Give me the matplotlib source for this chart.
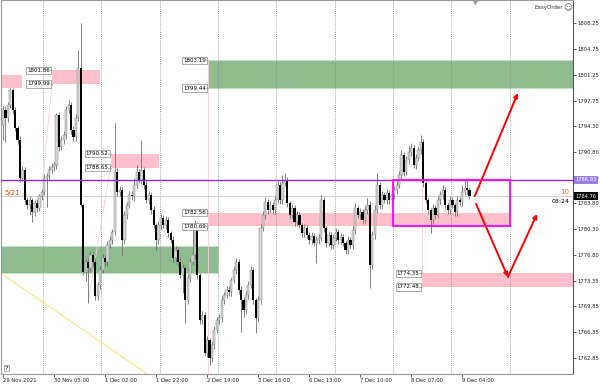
"""MT4-style XAUUSD H1 chart with supply/demand zones and projected path arrows."""
import matplotlib

matplotlib.use("Agg")
import matplotlib.pyplot as plt  # noqa: E402
import numpy as np  # noqa: E402
from matplotlib.patches import Rectangle  # noqa: E402

# ---- candle data (H1 bars, 29 Nov 08:00 -> 9 Dec) ----
FIRST_OPEN = 1794.43
CLOSES = [
    1796.46, 1795.38, 1797.14, 1799.17, 1796.46, 1794.03, 1792.40, 1787.25, 1788.34, 1784.27,
    1783.59, 1784.27, 1782.64, 1783.86, 1783.19, 1784.81, 1785.35, 1787.25, 1787.52, 1788.34,
    1788.74, 1789.01, 1795.79, 1791.45, 1792.40, 1793.08, 1796.46, 1797.14, 1793.76, 1792.81,
    1795.38, 1802.16, 1783.59, 1774.51, 1775.87, 1775.06, 1776.82, 1775.87, 1771.26, 1772.75,
    1774.79, 1776.41, 1775.87, 1778.17, 1778.85, 1779.93, 1788.06, 1785.35, 1785.63, 1778.85,
    1782.24, 1783.59, 1784.95, 1784.80, 1786.30, 1788.06, 1786.98, 1788.34, 1786.30, 1784.27,
    1784.95, 1782.92, 1780.88, 1778.85, 1780.88, 1781.83, 1780.88, 1781.56, 1779.80, 1778.85,
    1776.41, 1777.50, 1775.87, 1774.11, 1775.06, 1770.72, 1773.70, 1775.87, 1776.82, 1780.88,
    1774.11, 1768.01, 1768.69, 1763.54, 1765.30, 1762.86, 1764.62, 1766.66, 1768.01, 1768.28,
    1770.72, 1771.40, 1772.08, 1771.81, 1773.43, 1774.79, 1775.87, 1772.08, 1770.72, 1769.37,
    1771.40, 1772.75, 1774.79, 1770.72, 1768.28, 1770.72, 1780.48, 1782.24, 1784.00, 1782.92,
    1783.59, 1782.92, 1784.27, 1786.30, 1784.27, 1786.57, 1786.98, 1783.86, 1782.24, 1783.19,
    1781.29, 1782.24, 1780.88, 1779.80, 1780.48, 1779.53, 1778.85, 1779.39, 1778.44, 1778.85,
    1779.12, 1784.27, 1780.48, 1778.44, 1779.53, 1778.17, 1779.12, 1779.93, 1778.85, 1779.26,
    1778.44, 1777.50, 1778.85, 1778.17, 1780.21, 1783.19, 1782.24, 1782.64, 1781.56, 1782.92,
    1783.59, 1775.46, 1779.53, 1782.92, 1786.30, 1783.59, 1784.95, 1784.27, 1785.22, 1784.27,
    1784.95, 1785.63, 1786.30, 1787.66, 1790.37, 1788.06, 1789.69, 1790.77, 1791.32, 1789.01,
    1789.96, 1791.05, 1792.13, 1786.57, 1784.27, 1782.92, 1781.56, 1783.19, 1782.24, 1784.27,
    1784.95, 1785.63, 1783.59, 1782.92, 1784.27, 1783.59, 1782.64, 1784.27, 1784.00, 1785.35,
    1785.90, 1785.63, 1784.81,
]
UP_WICK = [
    0.6, 0.5, 0.4, 0.3, 0.3, 0.4, 0.3, 0.5, 0.6, 0.4,
    0.4, 0.5, 0.3, 0.4, 0.5, 0.3, 0.4, 0.5, 0.4, 0.6,
    0.5, 0.4, 0.3, 0.4, 0.5, 0.6, 0.5, 0.7, 0.4, 0.5,
    0.6, 2.4, 6.1, 0.3, 0.4, 0.5, 0.6, 0.4, 0.5, 0.4,
    0.5, 0.6, 0.4, 0.5, 0.6, 0.4, 6.6, 0.5, 0.6, 0.4,
    0.5, 0.4, 0.6, 0.5, 0.9, 0.9, 0.4, 4.0, 0.4, 0.5,
    0.6, 0.4, 0.5, 0.3, 0.5, 0.6, 0.4, 0.5, 0.4, 0.3,
    0.5, 0.6, 0.4, 0.5, 0.6, 0.4, 0.5, 0.6, 3.4, 0.7,
    0.4, 0.3, 0.6, 0.4, 0.5, 0.3, 0.5, 0.6, 0.4, 0.5,
    0.6, 0.4, 0.5, 0.5, 0.4, 0.6, 0.6, 0.4, 0.5, 0.4,
    0.5, 0.6, 0.5, 0.4, 0.3, 0.5, 0.6, 0.5, 0.7, 0.4,
    0.5, 0.4, 0.6, 0.6, 0.4, 1.1, 0.9, 0.4, 0.3, 0.5,
    0.4, 0.5, 0.4, 0.3, 0.5, 0.4, 0.4, 0.5, 0.4, 0.5,
    0.5, 0.7, 0.4, 0.3, 0.5, 0.4, 0.5, 0.6, 0.4, 0.5,
    0.4, 0.3, 0.5, 0.4, 0.6, 0.7, 0.4, 0.5, 0.4, 0.6,
    0.9, 0.5, 0.6, 0.7, 1.6, 0.4, 0.5, 0.4, 0.6, 0.4,
    0.5, 0.5, 0.6, 0.6, 0.7, 0.4, 0.6, 0.9, 0.7, 0.4,
    0.5, 0.6, 0.9, 0.4, 0.3, 0.3, 0.3, 0.5, 0.4, 0.5,
    0.6, 0.7, 0.4, 0.3, 0.5, 0.4, 0.3, 0.5, 0.4, 0.9,
    1.1, 1.3, 0.4,
]
DOWN_WICK = [
    2.0, 3.2, 0.5, 0.4, 0.5, 0.4, 0.6, 0.5, 0.4, 0.6,
    0.5, 1.3, 1.3, 0.5, 0.6, 0.4, 0.5, 0.4, 3.9, 0.5,
    0.4, 0.5, 0.6, 0.5, 0.4, 0.5, 0.6, 0.4, 0.5, 0.6,
    0.5, 0.4, 0.3, 0.4, 1.2, 4.7, 0.5, 0.6, 0.5, 0.6,
    0.5, 0.4, 0.6, 0.5, 0.4, 0.5, 0.4, 0.6, 0.5, 2.0,
    0.6, 0.5, 0.4, 0.5, 0.6, 0.5, 0.4, 0.6, 0.5, 0.4,
    0.5, 0.6, 0.4, 1.3, 0.6, 0.5, 0.4, 0.5, 0.6, 0.4,
    0.5, 0.6, 0.5, 0.4, 2.5, 3.1, 0.6, 0.5, 0.4, 0.5,
    0.6, 0.5, 0.6, 0.4, 0.5, 0.9, 0.6, 0.5, 0.4, 0.5,
    0.6, 0.5, 0.4, 0.6, 0.5, 0.4, 0.5, 0.6, 4.4, 1.0,
    0.6, 0.5, 0.4, 0.5, 2.1, 0.6, 0.5, 0.4, 0.5, 0.6,
    0.4, 0.5, 0.6, 0.4, 0.5, 0.6, 0.4, 0.5, 0.6, 0.4,
    0.5, 0.6, 0.4, 0.5, 0.6, 0.4, 0.5, 0.6, 0.4, 2.7,
    0.5, 0.4, 0.6, 0.5, 0.4, 0.6, 0.5, 0.4, 0.6, 0.5,
    0.4, 0.5, 0.6, 0.4, 0.5, 0.6, 0.4, 0.5, 0.6, 0.4,
    0.5, 3.1, 0.6, 0.5, 0.4, 0.6, 0.5, 0.4, 0.6, 0.5,
    0.4, 0.5, 0.6, 0.4, 0.5, 0.6, 0.4, 0.5, 0.6, 0.4,
    0.5, 0.4, 0.6, 0.5, 0.4, 0.6, 1.8, 0.5, 0.6, 0.4,
    0.5, 0.6, 0.4, 0.5, 0.6, 0.4, 0.5, 0.6, 0.4, 0.5,
    0.4, 0.5, 0.4,
]

# ---- axes ----
X_TICKS = [0, 21, 42, 63, 84, 105, 126, 147, 168, 189]
X_LABELS = ["29 Nov 2021", "30 Nov 05:00", "1 Dec 02:00", "1 Dec 22:00", "2 Dec 19:00",
            "3 Dec 16:00", "6 Dec 13:00", "7 Dec 10:00", "8 Dec 07:00", "9 Dec 04:00"]
DAY_LINES = [16.5, 40.5, 64.5, 88.5, 112.5, 136.5, 160.5, 184.5, 208.5]
Y_TICKS = [1808.25, 1804.75, 1801.25, 1797.75, 1794.30, 1790.80, 1787.30,
           1783.80, 1780.30, 1776.80, 1773.35, 1769.85, 1766.35, 1762.85]

# ---- drawn objects: (bar_from, bar_to, low, high) ----
PINK_ZONES = [(-2, 7.8, 1799.45, 1801.21), (20.2, 40.0, 1799.99, 1801.86),
              (44.4, 64.2, 1788.65, 1790.52), (84.4, 208.6, 1780.69, 1782.56),
              (172.4, 240, 1772.48, 1774.35)]
GREEN_ZONES = [(84.4, 240, 1799.44, 1803.19), (-2, 88.5, 1774.38, 1778.04)]
BOX_ZONE = (160.5, 208.6, 1780.69, 1786.98)
ZONE_LABELS = [(20.2, 1801.86, 1799.99), (84.4, 1803.19, 1799.44), (44.4, 1790.52, 1788.65),
               (84.4, 1782.56, 1780.69), (172.4, 1774.35, 1772.48)]
PURPLE_LEVEL = 1786.98
BID = 1784.81
ARROWS = [((194.2, 1784.81), (211.9, 1798.77)),
          ((194.7, 1783.73), (207.8, 1773.84)),
          ((207.8, 1773.84), (219.8, 1782.37))]
YELLOW_LINE = ([-1.0, 59.3], [1774.38, 1760.69])
PINK_LINES = [([16.5, 20.2], [1787.4, 1800.1]), ([35.0, 44.2], [1770.3, 1788.7]),
              ([84.2, 84.2], [1803.19, 1760.6]), ([172.4, 172.4], [1786.98, 1774.35])]


def main() -> None:
    fig = plt.figure(figsize=(6, 3.84), dpi=100)
    ax = fig.add_axes([1 / 600, 10 / 384, 572 / 600, 374 / 384])
    ax.set_xlim(-0.82, 234.6)
    ax.set_ylim(1760.69, 1811.37)

    for x0, x1, lo, hi in PINK_ZONES:
        ax.add_patch(Rectangle((x0, lo), x1 - x0, hi - lo, fc="#ffc0cb", ec="none", zorder=1))
    for x0, x1, lo, hi in GREEN_ZONES:
        ax.add_patch(Rectangle((x0, lo), x1 - x0, hi - lo, fc="#8fbc8f", ec="#c6e3c6",
                               lw=0.6, zorder=1))
    x0, x1, lo, hi = BOX_ZONE
    ax.add_patch(Rectangle((x0, lo), x1 - x0, hi - lo, fc="none", ec="#ff00ff", lw=1.3, zorder=5))

    for d in DAY_LINES:
        ax.axvline(d, color="#8a8a8a", ls=(0, (1, 1.5)), lw=0.6, zorder=2)
    for xs, ys in PINK_LINES:
        ax.plot(xs, ys, color="#f6d0d6", lw=0.6, zorder=2)
    ax.plot(*YELLOW_LINE, color="#ffe070", lw=0.7, zorder=2)

    # candles
    c = np.array(CLOSES)
    o = np.array([FIRST_OPEN] + CLOSES[:-1])
    hi_ = np.maximum(o, c) + np.array(UP_WICK)
    lo_ = np.minimum(o, c) - np.array(DOWN_WICK)
    x = np.arange(len(c))
    ax.vlines(x, lo_, hi_, color="#6e6e6e", lw=0.6, zorder=3)
    up = c >= o
    ax.bar(x[up], np.maximum(c - o, 0.08)[up], bottom=o[up], width=0.9,
           color="#d4d4d4", edgecolor="#888888", lw=0.35, zorder=4)
    ax.bar(x[~up], (o - c)[~up], bottom=c[~up], width=0.9, color="black", lw=0, zorder=4)

    ax.axhline(PURPLE_LEVEL, color="#8a2be2", lw=1.0, zorder=4)
    ax.axhline(BID, color="#d0d0d0", lw=0.7, zorder=2)

    for (x0, y0), (x1, y1) in ARROWS:
        ax.annotate("", xy=(x1, y1), xytext=(x0, y0), zorder=6,
                    arrowprops=dict(arrowstyle="-|>", color="#ff0000", lw=1.4,
                                    mutation_scale=6, shrinkA=0, shrinkB=0))

    box = dict(boxstyle="square,pad=0.2", fc="white", ec="#8c8c8c", lw=0.5)
    for zx, top, bot in ZONE_LABELS:
        for v in (top, bot):
            ax.text(zx - 1.0, v, f"{v:.2f}", fontsize=4.0, ha="right", va="center",
                    bbox=box, zorder=7)
            ax.plot([zx - 1.0, zx], [v, v], color="#8c8c8c", lw=0.5, zorder=7)

    ax.text(0.5, 1785.2, "5/21", color="#ff4500", fontsize=5, ha="left", va="center", zorder=7)
    ax.text(230.5, 1810.3, "EasyOrder", fontsize=4.0, color="#333333", ha="right", va="center")
    ax.text(232.4, 1810.3, "\u263a", fontsize=6, color="#555555", ha="center", va="center")
    ax.text(1.5, 1761.5, "?", fontsize=4.5, ha="center", va="center",
            bbox=dict(boxstyle="square,pad=0.15", fc="white", ec="#8c8c8c", lw=0.5))
    ax.plot([194.2], [1811.1], marker="v", ms=3, color="#a0a0a0", clip_on=False)

    ytr = ax.get_yaxis_transform()
    ax.text(0.994, 1785.4, "10", transform=ytr, color="#ff6a00", fontsize=5, ha="right",
            va="center")
    ax.text(0.994, 1784.1, "03:24", transform=ytr, color="black", fontsize=4.5, ha="right",
            va="center")
    ax.text(1.004, PURPLE_LEVEL, "1786.93", transform=ytr, color="white", fontsize=3.7,
            ha="left", va="center", clip_on=False, zorder=8,
            bbox=dict(boxstyle="square,pad=0.25", fc="#9a7de8", ec="none"))
    ax.text(1.004, BID, "1784.76", transform=ytr, color="white", fontsize=3.7,
            ha="left", va="center", clip_on=False, zorder=8,
            bbox=dict(boxstyle="square,pad=0.25", fc="black", ec="none"))

    ax.yaxis.tick_right()
    ax.set_yticks(Y_TICKS)
    ax.set_yticklabels([f"{v:.2f}" for v in Y_TICKS])
    ax.set_xticks(X_TICKS)
    ax.set_xticklabels(X_LABELS, ha="left")
    ax.tick_params(labelsize=3.8, length=2, width=0.5, pad=1.0, colors="#222222")
    for s in ax.spines.values():
        s.set_color("#9a9a9a")
        s.set_linewidth(0.8)
    ax.spines["right"].set_color("#555555")

    fig.savefig("out.png", dpi=100)


if __name__ == "__main__":
    main()
